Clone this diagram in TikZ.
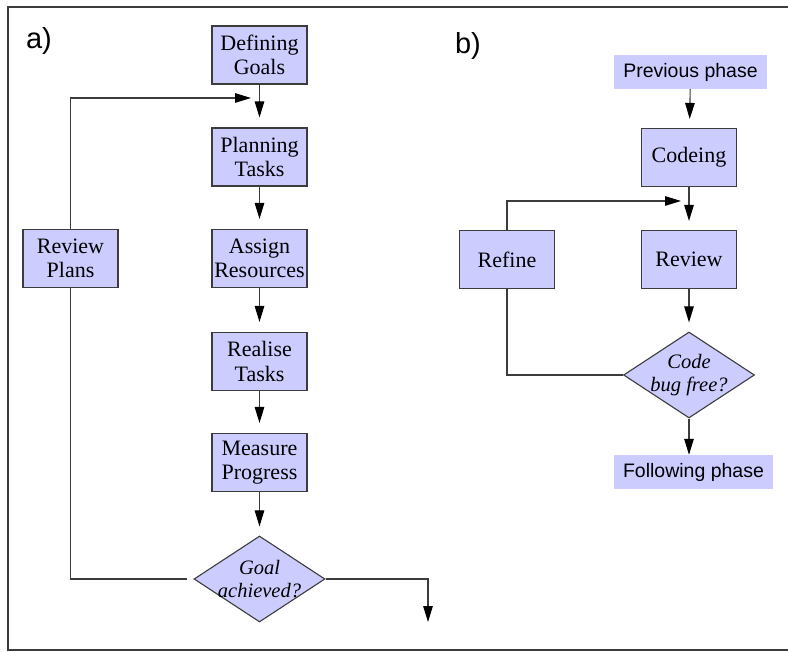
\documentclass[tikz,border=0pt]{standalone}
\usepackage{fontspec}
\setmainfont{Liberation Serif}
\newfontfamily\labelfont{Liberation Sans}
\usetikzlibrary{shapes.geometric,arrows.meta}
\definecolor{boxfill}{RGB}{204,204,255}
\definecolor{ink}{RGB}{60,60,60}
\tikzset{
  procbox/.style={draw=ink, line width=1.1pt, fill=boxfill, minimum width=95pt,
    minimum height=58pt, inner sep=0pt, align=center,
    font=\fontsize{22}{24.5}\selectfont},
  phasebox/.style={fill=boxfill, inner sep=0pt, minimum height=34pt,
    font=\labelfont\fontsize{19.5}{22}\selectfont},
  decision/.style={diamond, draw=ink, line width=1.1pt, fill=boxfill,
    minimum width=131pt, minimum height=86pt, inner sep=0pt},
  decisiontext/.style={align=center, font=\itshape\fontsize{20.5}{23.5}\selectfont},
  flow/.style={draw=ink, line width=1.1pt,
    -{Triangle[length=16pt,width=9.5pt,color=black]}},
  link/.style={draw=ink, line width=1.1pt},
  panel/.style={font=\labelfont\fontsize{29}{32}\selectfont, inner sep=0pt},
}
\begin{document}
\begin{tikzpicture}[x=1pt,y=-1pt]
\useasboundingbox (0,0) rectangle (788,652);
\clip (0,0) rectangle (788,652);
% outer frame
\draw[ink, line width=1.6pt] (8,7) rectangle (800,650);

% ---- a) project cycle ----
\node[panel] (la) at (39,41) {a)};
\node[procbox] (g1) at (259.5,55) {Defining\\Goals};
\node[procbox] (g2) at (259.5,157) {Planning\\Tasks};
\node[procbox] (g3) at (259.5,258.5) {Assign\\Resources};
\node[procbox] (g4) at (259.5,361.5) {Realise\\Tasks};
\node[procbox] (g5) at (259.5,462.5) {Measure\\Progress};
\node[procbox] (rp) at (70.5,258.5) {Review\\Plans};
\node[decision] (d1) at (259.5,579) {};
\node[decisiontext] (d1t) at (d1) {Goal\\achieved?};
\coordinate (fa) at (251,98);
\coordinate (ea) at (428,622);

\draw[flow, shorten >=10pt] (g1) -- (g2);
\draw[flow, shorten >=10pt] (g2) -- (g3);
\draw[flow, shorten >=10pt] (g3) -- (g4);
\draw[flow, shorten >=10pt] (g4) -- (g5);
\draw[flow, shorten >=9pt] (g5) -- (d1);
\draw[flow] (rp.north) |- (fa);
\draw[link, shorten <=6pt] (d1.west) -| (rp.south);
\draw[flow] (d1.east) -| (ea);

% ---- b) coding loop ----
\node[panel] (lb) at (468,46) {b)};
\node[phasebox, minimum width=153pt] (pp) at (690.5,72) {Previous phase};
\node[procbox] (cd) at (689,157.5) {Codeing};
\node[procbox] (rv) at (689,259.5) {Review};
\node[procbox] (rf) at (507,259.5) {Refine};
\node[decision] (d2) at (689,375) {};
\node[decisiontext] (d2t) at (d2) {Code\\bug free?};
\node[phasebox, minimum width=159pt] (fp) at (693.5,472) {Following phase};
\coordinate (fb) at (681,201);

\draw[flow, shorten >=9pt] (pp) -- (cd);
\draw[flow, shorten >=9pt] (cd) -- (rv);
\draw[flow, shorten >=9pt] (rv) -- (d2);
\draw[flow] (rf.north) |- (fb);
\draw[link] (d2.west) -| (rf.south);
\draw[flow] (d2.south) -- (d2.south |- fp.north);
\end{tikzpicture}
\end{document}
